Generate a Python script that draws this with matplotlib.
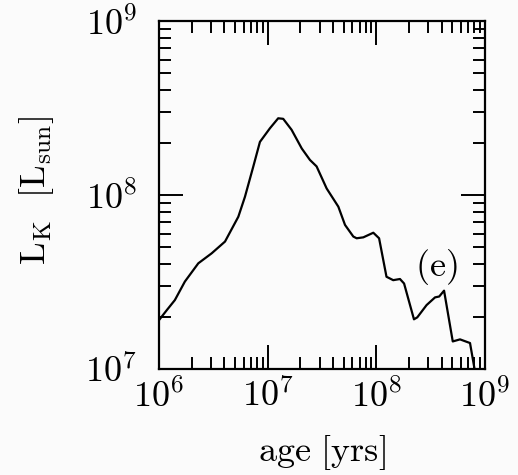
import matplotlib
matplotlib.use("Agg")
import matplotlib.pyplot as plt
from matplotlib.ticker import LogLocator, NullFormatter, FixedLocator

plt.rcParams['mathtext.fontset'] = 'cm'
plt.rcParams['font.family'] = ['DejaVu Serif']

# age [yrs]
age = [1.0e6, 1.18e6, 1.40e6, 1.73e6, 2.30e6, 3.05e6, 4.05e6, 5.37e6, 6.18e6,
       7.38e6, 8.49e6, 1.05e7, 1.25e7, 1.39e7, 1.66e7, 2.06e7, 2.45e7, 2.82e7,
       3.49e7, 4.47e7, 5.15e7, 6.14e7, 6.59e7, 7.59e7, 9.38e7, 1.06e8, 1.24e8,
       1.43e8, 1.65e8, 1.80e8, 2.22e8, 2.38e8, 2.90e8, 3.47e8, 3.79e8, 4.20e8,
       5.05e8, 5.89e8, 7.28e8, 8.13e8]
# L_K [L_sun]
lum = [1.91e7, 2.18e7, 2.49e7, 3.18e7, 4.05e7, 4.62e7, 5.40e7, 7.50e7, 9.77e7,
       1.46e8, 2.02e8, 2.42e8, 2.76e8, 2.74e8, 2.37e8, 1.85e8, 1.59e8, 1.46e8,
       1.09e8, 8.57e7, 6.73e7, 5.77e7, 5.64e7, 5.71e7, 6.07e7, 5.64e7, 3.39e7,
       3.24e7, 3.29e7, 3.10e7, 1.93e7, 1.98e7, 2.33e7, 2.58e7, 2.61e7, 2.82e7,
       1.44e7, 1.48e7, 1.41e7, 9.5e6]

xticks = [1e6, 1e7, 1e8, 1e9]
xticklabels = [r'$10^{6}$', r'$10^{7}$', r'$10^{8}$', r'$10^{9}$']
yticks = [1e7, 1e8, 1e9]
yticklabels = [r'$10^{7}$', r'$10^{8}$', r'$10^{9}$']
panel_label = r'$\mathrm{(e)}$'

FS = 26
fig = plt.figure(figsize=(5.18, 4.75), dpi=100, facecolor='#fbfbfb')
ax = fig.add_axes([159/518, 1-369/475, (485-159)/518, (369-21)/475])
ax.set_facecolor('#fbfbfb')

ax.plot(age, lum, color='black', lw=1.6)
ax.set_xscale('log')
ax.set_yscale('log')
ax.set_xlim(1e6, 1e9)
ax.set_ylim(1e7, 1e9)

ax.xaxis.set_major_locator(FixedLocator(xticks))
ax.set_xticklabels(xticklabels)
ax.yaxis.set_major_locator(FixedLocator(yticks))
ax.set_yticklabels(yticklabels)
ax.xaxis.set_minor_locator(LogLocator(base=10, subs=range(2, 10)))
ax.yaxis.set_minor_locator(LogLocator(base=10, subs=range(2, 10)))
ax.xaxis.set_minor_formatter(NullFormatter())
ax.yaxis.set_minor_formatter(NullFormatter())

for s in ax.spines.values():
    s.set_linewidth(1.6)

ax.tick_params(which='both', direction='in', top=True, right=True, width=1.4)
ax.tick_params(which='major', length=17, labelsize=FS)
ax.tick_params(axis='x', which='major', pad=7)
ax.tick_params(axis='y', which='major', pad=16)
ax.tick_params(which='minor', length=8.6)

ax.set_xlabel(r'$\mathrm{age\ [yrs]}$', fontsize=FS, ha='center', va='bottom')
ax.set_ylabel(r'$\mathrm{L_K\ \ [L_{sun}]}$', fontsize=FS, ha='center', va='center')
ax.xaxis.set_label_coords(0.5, (369 - 472) / 348)
ax.yaxis.set_label_coords((37 - 159) / 326, (369 - 190) / 348)

ax.text(3.54e8, 3.86e7, panel_label, fontsize=FS, ha='center', va='center')

fig.savefig('out.png', dpi=100, facecolor=fig.get_facecolor())
